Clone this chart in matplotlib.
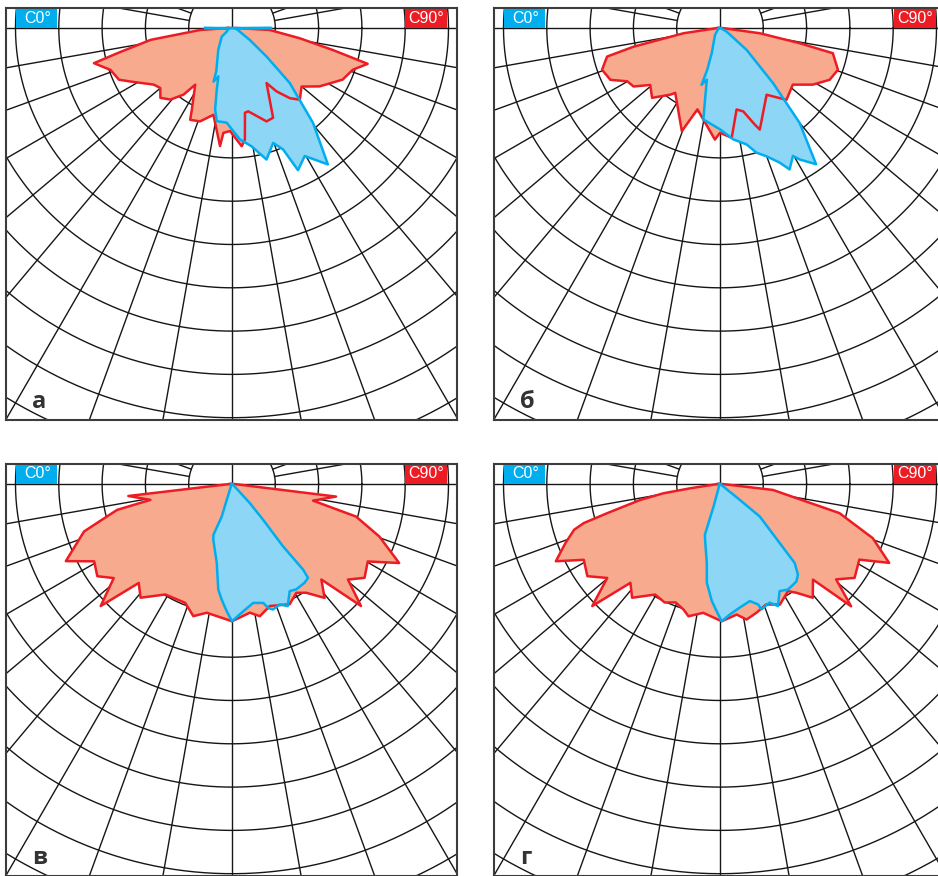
import numpy as np
import matplotlib.pyplot as plt
from matplotlib.patches import Rectangle

# Light distribution curves: gamma in degrees (0 = nadir, negative = left
# half), intensity in grid steps (one ring = one step)

# panel а
c90_a_gamma = [-90, -86.4, -81.7, -77.6, -75.7, -71.0, -65.4, -62.2, -54.1, -50.1,
               -45.7, -40.7, -36.0, -33.0, -26.2, -24.5, -18.9, -12.1, -5.8, -4.7,
               -1.1, 4.7, 6.6, 8.7, 11.0, 20.3, 24.6, 32.1, 35.1, 39.5,
               43.4, 49.9, 56.3, 65.0, 70.9, 75.2, 77.7, 81.4, 87.0, 90]
c90_a_value = [0.1, 0.74, 1.90, 2.71, 3.29, 2.97, 2.87, 2.65, 2.23, 2.16,
               2.31, 2.18, 1.90, 1.56, 2.10, 2.33, 2.28, 2.05, 2.74, 2.43,
               2.38, 2.74, 2.59, 1.98, 1.96, 2.30, 2.28, 1.50, 1.79, 2.10,
               2.28, 2.10, 2.43, 2.82, 2.95, 3.24, 2.38, 1.58, 0.87, 0.1]
c0_a_gamma = [-90, -80, -55, -50, -32, -20, -19, -15.7, -13.9, -11.7,
              -9.3, -3.2, 0.7, 4.1, 9.4, 14.7, 19.7, 22.8, 24.9, 29.6,
              35.1, 40.5, 46.4, 50.4, 56, 70, 84, 90]
c0_a_value = [0.62, 0.08, 0.15, 0.31, 0.60, 1.06, 1.31, 1.16, 1.47, 1.92,
              2.18, 2.19, 2.38, 2.58, 2.77, 3.14, 2.82, 3.04, 3.62, 3.40,
              3.85, 2.88, 1.84, 1.04, 0.50, 0.15, 0.07, 0.91]

# panel б
c90_b_gamma = [-90, -81.8, -77.8, -75.8, -70.5, -64.7, -60.1, -55.9, -50.8, -44.2,
               -36.7, -34.6, -20.3, -15.5, -10.3, -2.6, 0, 6.1, 11.5, 15.6,
               19.8, 21.4, 34.9, 37.8, 42.8, 52.1, 58.6, 64.7, 70.5, 77.4,
               79.2, 82.5, 90]
c90_b_value = [0.05, 0.85, 2.04, 2.69, 2.89, 2.80, 2.47, 2.41, 2.08, 2.25,
               1.92, 1.82, 2.54, 1.95, 2.15, 2.58, 2.42, 2.55, 1.92, 2.00,
               2.37, 2.52, 1.88, 2.00, 2.26, 2.13, 2.51, 2.80, 2.89, 2.67,
               1.87, 0.93, 0.05]
c0_b_gamma = [-90, -60, -35.5, -18.2, -17, -18, -14.3, -11.8, -10.3, -8.1,
              0, 6.8, 12.9, 16.3, 19.9, 23.9, 26.2, 29.7, 31.2, 35.2,
              40.0, 43.9, 50.5, 60, 90]
c0_b_value = [0.02, 0.05, 0.20, 0.61, 1.01, 1.38, 1.23, 1.69, 2.15, 2.18,
              2.34, 2.59, 2.76, 3.00, 3.15, 3.40, 3.64, 3.40, 3.55, 3.85,
              2.86, 1.77, 0.80, 0.20, 0.02]

# panel в
c90_c_gamma = [-90, -83.4, -79.0, -77.3, -73.5, -72.2, -65.1, -60.7, -55.6, -51.5,
               -47.1, -43.3, -38.8, -31.1, -21.5, -16.3, -11.1, 0, 7.9, 11.9,
               17.2, 25.6, 30.6, 34.3, 39.1, 43.1, 46.6, 50.5, 54.7, 60.3,
               64.7, 70.4, 75.3, 78.4, 83.1, 90]
c90_c_value = [0.05, 2.41, 1.92, 2.72, 3.32, 3.59, 4.23, 3.65, 3.77, 3.49,
               4.14, 3.14, 3.37, 2.98, 2.95, 3.18, 3.03, 3.17, 3.00, 3.12,
               2.95, 3.08, 2.92, 3.04, 3.39, 3.02, 4.10, 3.47, 3.75, 3.61,
               4.27, 3.61, 2.96, 1.91, 2.42, 0.05]
c0_c_gamma = [-90, -40, -18.3, -17.5, -20.1, -18.5, -10.9, -7.4, -5.1, -2.4,
              0, 4.3, 10.1, 14.7, 16.3, 18.1, 21.6, 24.5, 28.3, 31.4,
              36.3, 39.0, 39.7, 39.3, 41.0, 43.0, 60, 90]
c0_c_value = [0.02, 0.02, 0.39, 0.79, 1.25, 1.36, 1.86, 2.46, 2.68, 2.94,
              3.17, 2.98, 2.79, 2.84, 2.98, 3.05, 2.99, 3.10, 2.81, 2.85,
              2.83, 2.79, 2.57, 1.86, 1.10, 0.61, 0.02, 0.02]

# panel г
c90_d_gamma = [-90, -81.8, -80.7, -78.7, -75.5, -74.0, -72.6, -69.1, -64.8, -60.9,
               -55.2, -50.2, -46.3, -42.2, -37.7, -30.4, -25.0, -20.5, -16.2, -13.4,
               -7.4, 0.7, 7.3, 11.1, 15.8, 21.0, 26.4, 32.4, 35.1, 39.2,
               44.2, 47.0, 50.6, 55.1, 61.5, 65.0, 70.5, 71.4, 76.3, 78.5,
               83.6, 90]
c90_d_value = [0.05, 0.70, 1.32, 1.88, 2.69, 3.27, 3.53, 3.82, 4.19, 3.60,
               3.73, 3.39, 4.08, 3.08, 3.32, 2.96, 3.02, 2.92, 3.02, 3.14,
               3.00, 3.17, 3.04, 3.19, 3.09, 2.98, 3.11, 2.93, 3.07, 3.39,
               3.08, 4.14, 3.47, 3.79, 3.66, 4.31, 3.74, 3.56, 2.84, 2.03,
               1.23, 0.05]
c0_d_gamma = [-90, -40, -16.0, -16.6, -15.0, -9.5, -7.6, -4.0, -1.5, 0.7,
              4.4, 9.1, 14.3, 17.6, 18.3, 22.7, 25.4, 29.1, 32.8, 38.1,
              40.7, 43.4, 45.3, 50.7, 51.3, 60, 90]
c0_d_value = [0.02, 0.02, 0.54, 1.22, 1.33, 1.85, 2.30, 2.71, 2.94, 3.17,
              3.02, 2.89, 2.79, 2.92, 3.05, 2.97, 3.12, 2.83, 2.90, 2.86,
              2.76, 2.51, 1.94, 1.19, 0.59, 0.02, 0.02]

panel_letters = ["а", "б", "в", "г"]

W, H = 938, 876
STEP = 43.3          # pixels per grid ring
GRID = "#161616"
RED, RED_FILL = "#ed1c24", "#f8aa8e"
BLUE, BLUE_FILL = "#00aeef", "#8dd6f5"


def to_xy(gamma, value):
    g = np.radians(gamma)
    v = np.asarray(value, dtype=float)
    return v * np.sin(g), -v * np.cos(g)


def draw_panel(left, top, width, letter, c0, c90):
    height = 412
    ax = fig.add_axes([left / W, (H - top - height) / H, width / W, height / H])
    x0, x1 = -226 / STEP, (width - 226) / STEP
    y0, y1 = -(height - 20) / STEP, 20 / STEP
    ax.set_xlim(x0, x1)
    ax.set_ylim(y0, y1)
    ax.set_xticks([])
    ax.set_yticks([])
    for s in ax.spines.values():
        s.set_linewidth(1.5)
        s.set_color("#3c3c3c")
        s.set_zorder(10)

    # polar grid: rings and 10 degree rays
    t = np.linspace(0, 2 * np.pi, 721)
    for k in range(1, 14):
        ax.plot(k * np.cos(t), k * np.sin(t), color=GRID, lw=1.0, zorder=1)
    for a in range(0, 360, 10):
        r0 = 0 if a % 90 == 0 else 1
        ar = np.radians(a)
        ax.plot([r0 * np.sin(ar), 14 * np.sin(ar)],
                [-r0 * np.cos(ar), -14 * np.cos(ar)],
                color=GRID, lw=1.0, zorder=1)

    # C90 plane below, C0 plane on top of it
    xr, yr = to_xy(*c90)
    xb, yb = to_xy(*c0)
    ax.fill(xr, yr, color=RED_FILL, lw=0, zorder=2)
    ax.fill(xb, yb, color=BLUE_FILL, lw=0, zorder=3)
    ax.plot(np.append(xr, xr[0]), np.append(yr, yr[0]), color=RED, lw=1.8,
            solid_joinstyle="round", zorder=4)
    ax.plot(np.append(xb, xb[0]), np.append(yb, yb[0]), color=BLUE, lw=1.8,
            solid_joinstyle="round", zorder=5)

    # plane tags
    bx = x0 + 10 / STEP
    ax.add_patch(Rectangle((bx, 0), 41 / STEP, y1, color=BLUE, lw=0, zorder=6))
    ax.text(bx + 22 / STEP, y1 / 2, "C0°", color="white", fontsize=11.5,
            family="Liberation Sans", ha="center", va="center", zorder=7)
    rx = x1 - 52 / STEP
    ax.add_patch(Rectangle((rx, 0), 42 / STEP, y1, color=RED, lw=0, zorder=6))
    ax.text(rx + 21.5 / STEP, y1 / 2, "C90°", color="white", fontsize=11.5,
            family="Liberation Sans", ha="center", va="center", zorder=7)

    ax.text(x0 + 26 / STEP, y0 + 12 / STEP, letter, color="#333333",
            fontsize=17, fontweight="bold", family="Open Sans",
            ha="left", va="baseline", zorder=7)
    return ax


fig = plt.figure(figsize=(W / 100, H / 100), dpi=100)

draw_panel(6, 8, 451, panel_letters[0],
           (c0_a_gamma, c0_a_value), (c90_a_gamma, c90_a_value))
draw_panel(494, 8, 452, panel_letters[1],
           (c0_b_gamma, c0_b_value), (c90_b_gamma, c90_b_value))
draw_panel(6, 464, 451, panel_letters[2],
           (c0_c_gamma, c0_c_value), (c90_c_gamma, c90_c_value))
draw_panel(494, 464, 452, panel_letters[3],
           (c0_d_gamma, c0_d_value), (c90_d_gamma, c90_d_value))

fig.savefig("out.png", dpi=100)
